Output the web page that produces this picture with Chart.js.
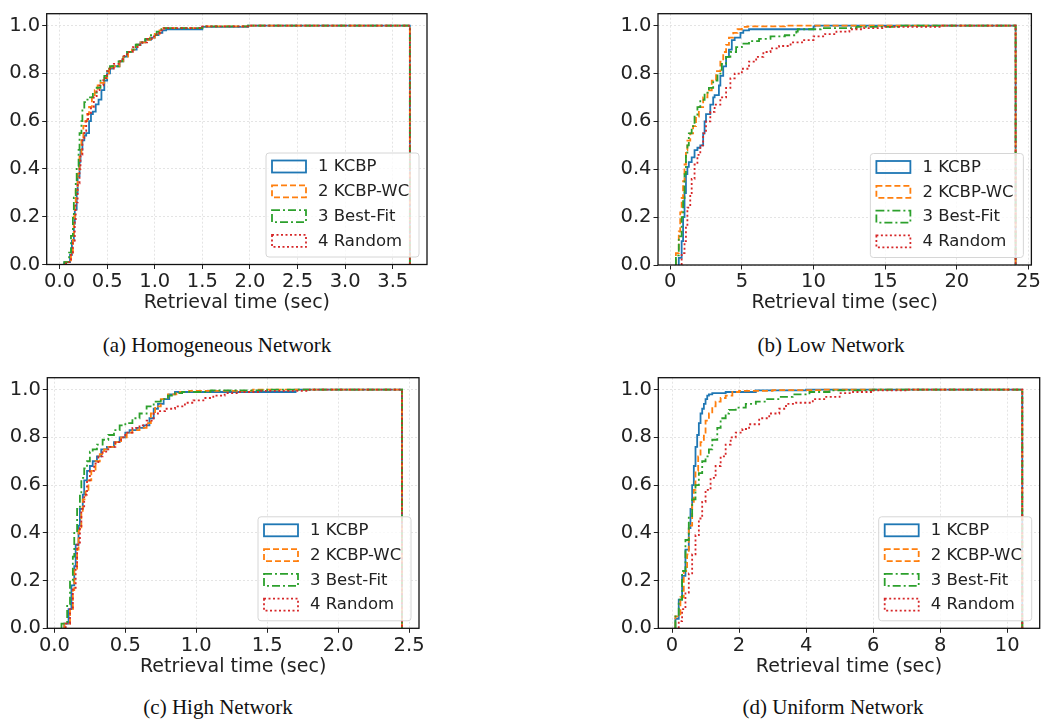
<!DOCTYPE html>
<html>
<head>
<meta charset="utf-8">
<script src="https://cdn.jsdelivr.net/npm/chart.js@4.4.1/dist/chart.umd.min.js"></script>
<style>
  body { margin: 0; width: 1042px; height: 721px; background: #fff; position: relative; overflow: hidden; }
  canvas { position: absolute; }
  .cap { position: absolute; font-family: 'Liberation Serif', 'Times New Roman', serif; font-size: 21px; line-height: 21px; color: #111; white-space: nowrap; transform: translateX(-50%); }
</style>
</head>
<body>
<canvas id="chartA" width="440" height="316" style="left:0px;top:0px"></canvas>
<canvas id="chartB" width="432" height="316" style="left:610px;top:0px"></canvas>
<canvas id="chartC" width="440" height="316" style="left:0px;top:364px"></canvas>
<canvas id="chartD" width="432" height="316" style="left:610px;top:364px"></canvas>
<div class="cap" style="left:217px;top:335px">(a) Homogeneous Network</div>
<div class="cap" style="left:831px;top:335px">(b) Low Network</div>
<div class="cap" style="left:218px;top:697px">(c) High Network</div>
<div class="cap" style="left:833px;top:697px">(d) Uniform Network</div>
<script>
const seriesNames = ['1 KCBP', '2 KCBP-WC', '3 Best-Fit', '4 Random'];
const seriesColors = ['#1f77b4', '#ff7f0e', '#2ca02c', '#d62728'];
const seriesDash = [[], [6, 3], [8, 3, 2, 3], [2, 2.5]];
const yTicks = [0, 0.2, 0.4, 0.6, 0.8, 1.0];
const xTitle = 'Retrieval time (sec)';

// (a) homogeneous network, [time, cumulative fraction]
const homXTicks = [0, 0.5, 1.0, 1.5, 2.0, 2.5, 3.0, 3.5];
const homKcbp = [[0.05,0],[0.11,0.01],[0.13,0.04],[0.15,0.1],[0.16,0.17],[0.18,0.23],[0.19,0.3],[0.21,0.37],[0.22,0.43],[0.24,0.48],[0.26,0.52],[0.28,0.54],[0.31,0.55],[0.33,0.6],[0.35,0.63],[0.38,0.64],[0.41,0.67],[0.44,0.69],[0.47,0.73],[0.5,0.77],[0.53,0.8],[0.56,0.82],[0.63,0.83],[0.67,0.85],[0.71,0.87],[0.76,0.89],[0.81,0.9],[0.85,0.92],[0.9,0.93],[0.96,0.94],[1.0,0.95],[1.04,0.96],[1.08,0.97],[1.12,0.98],[1.5,0.985],[1.98,0.995],[3.68,1.0],[3.68,0]];
const homKcbpWc = [[0.06,0],[0.12,0.01],[0.14,0.05],[0.15,0.12],[0.16,0.2],[0.17,0.25],[0.19,0.31],[0.21,0.38],[0.23,0.45],[0.25,0.52],[0.27,0.58],[0.29,0.6],[0.31,0.63],[0.34,0.66],[0.37,0.7],[0.4,0.73],[0.43,0.75],[0.47,0.76],[0.5,0.78],[0.52,0.8],[0.55,0.82],[0.63,0.83],[0.67,0.85],[0.72,0.87],[0.76,0.89],[0.81,0.9],[0.85,0.92],[0.9,0.93],[0.95,0.94],[1.0,0.95],[1.05,0.965],[1.09,0.98],[1.5,0.99],[1.98,0.997],[3.68,1.0],[3.68,0]];
const homBestFit = [[0.05,0],[0.1,0.01],[0.12,0.05],[0.14,0.12],[0.15,0.2],[0.17,0.28],[0.18,0.35],[0.2,0.41],[0.21,0.48],[0.23,0.55],[0.24,0.6],[0.26,0.65],[0.28,0.68],[0.31,0.69],[0.35,0.7],[0.39,0.72],[0.43,0.74],[0.47,0.77],[0.5,0.79],[0.53,0.82],[0.62,0.83],[0.66,0.85],[0.71,0.87],[0.76,0.89],[0.8,0.9],[0.85,0.92],[0.9,0.93],[0.96,0.945],[1.02,0.96],[1.07,0.975],[1.1,0.985],[1.5,0.99],[1.98,0.997],[3.68,1.0],[3.68,0]];
const homRandom = [[0.07,0],[0.12,0.01],[0.14,0.04],[0.16,0.1],[0.17,0.18],[0.19,0.26],[0.21,0.34],[0.22,0.4],[0.24,0.46],[0.26,0.53],[0.28,0.56],[0.3,0.6],[0.33,0.63],[0.36,0.66],[0.39,0.7],[0.42,0.73],[0.46,0.75],[0.5,0.78],[0.53,0.81],[0.57,0.82],[0.64,0.84],[0.68,0.86],[0.72,0.88],[0.77,0.89],[0.82,0.91],[0.87,0.92],[0.92,0.93],[0.97,0.945],[1.02,0.955],[1.06,0.97],[1.1,0.98],[1.5,0.99],[1.98,0.997],[3.68,1.0],[3.68,0]];

// (b) low network
const lowXTicks = [0, 5, 10, 15, 20, 25];
const lowKcbp = [[0.6,0],[0.8,0.03],[0.9,0.1],[1.0,0.2],[1.1,0.3],[1.2,0.38],[1.3,0.41],[1.5,0.43],[1.7,0.45],[1.9,0.48],[2.1,0.49],[2.3,0.5],[2.4,0.55],[2.5,0.6],[2.8,0.63],[3.0,0.67],[3.1,0.7],[3.4,0.71],[3.5,0.75],[3.7,0.79],[3.9,0.83],[4.1,0.87],[4.3,0.9],[4.5,0.94],[4.9,0.95],[5.1,0.97],[5.5,0.98],[10.0,0.985],[10.1,0.997],[24.1,1.0],[24.1,0]];
const lowKcbpWc = [[0.4,0],[0.6,0.05],[0.7,0.14],[0.8,0.22],[0.9,0.28],[1.0,0.35],[1.1,0.42],[1.2,0.48],[1.4,0.52],[1.6,0.55],[1.8,0.58],[2.0,0.62],[2.3,0.66],[2.6,0.7],[2.9,0.73],[3.2,0.77],[3.5,0.81],[3.7,0.85],[3.9,0.89],[4.1,0.92],[4.4,0.95],[4.7,0.97],[5.0,0.985],[5.4,0.995],[8.0,0.997],[24.1,1.0],[24.1,0]];
const lowBestFit = [[0.4,0],[0.6,0.04],[0.8,0.12],[0.9,0.2],[1.0,0.28],[1.1,0.38],[1.2,0.46],[1.3,0.5],[1.5,0.55],[1.7,0.58],[1.9,0.62],[2.1,0.66],[2.4,0.69],[2.7,0.72],[3.0,0.74],[3.3,0.77],[3.6,0.8],[3.9,0.84],[4.2,0.87],[4.6,0.89],[5.0,0.91],[5.5,0.925],[6.2,0.935],[7.0,0.945],[8.0,0.955],[8.8,0.96],[8.9,0.975],[10.5,0.985],[13.0,0.99],[16.0,0.995],[24.1,1.0],[24.1,0]];
const lowRandom = [[0.8,0],[1.0,0.05],[1.1,0.1],[1.2,0.16],[1.4,0.24],[1.5,0.3],[1.7,0.36],[1.9,0.42],[2.1,0.46],[2.3,0.5],[2.5,0.55],[2.8,0.6],[3.1,0.64],[3.5,0.67],[3.9,0.7],[4.2,0.74],[4.5,0.78],[5.0,0.8],[5.5,0.82],[6.0,0.85],[6.5,0.87],[7.0,0.89],[7.6,0.905],[8.4,0.915],[9.2,0.93],[10.0,0.94],[10.8,0.955],[11.6,0.965],[12.5,0.975],[13.5,0.985],[15.0,0.99],[19.0,0.995],[24.1,1.0],[24.1,0]];

// (c) high network
const highXTicks = [0, 0.5, 1.0, 1.5, 2.0, 2.5];
const highKcbp = [[0.07,0],[0.1,0.02],[0.12,0.08],[0.14,0.18],[0.15,0.26],[0.17,0.35],[0.18,0.43],[0.2,0.5],[0.21,0.56],[0.23,0.62],[0.25,0.66],[0.27,0.68],[0.3,0.7],[0.33,0.72],[0.37,0.75],[0.42,0.76],[0.46,0.78],[0.5,0.8],[0.53,0.82],[0.58,0.83],[0.63,0.84],[0.67,0.85],[0.7,0.88],[0.73,0.92],[0.77,0.94],[0.81,0.96],[0.85,0.98],[1.7,0.99],[2.45,1.0],[2.45,0]];
const highKcbpWc = [[0.07,0],[0.11,0.02],[0.13,0.08],[0.14,0.16],[0.16,0.25],[0.17,0.33],[0.19,0.41],[0.2,0.48],[0.22,0.54],[0.24,0.58],[0.26,0.62],[0.29,0.66],[0.32,0.7],[0.35,0.73],[0.38,0.75],[0.43,0.76],[0.47,0.78],[0.51,0.8],[0.55,0.82],[0.6,0.83],[0.65,0.84],[0.68,0.86],[0.71,0.9],[0.75,0.93],[0.8,0.96],[0.86,0.98],[0.95,0.99],[1.4,0.995],[2.45,1.0],[2.45,0]];
const highBestFit = [[0.05,0],[0.09,0.02],[0.11,0.1],[0.13,0.2],[0.14,0.3],[0.16,0.4],[0.18,0.5],[0.19,0.57],[0.21,0.63],[0.23,0.67],[0.25,0.7],[0.27,0.74],[0.3,0.75],[0.34,0.77],[0.38,0.79],[0.42,0.81],[0.46,0.83],[0.5,0.85],[0.55,0.86],[0.6,0.88],[0.65,0.9],[0.7,0.93],[0.75,0.95],[0.8,0.96],[0.85,0.975],[0.9,0.985],[1.1,0.99],[1.5,0.997],[2.45,1.0],[2.45,0]];
const highRandom = [[0.08,0],[0.11,0.02],[0.13,0.08],[0.15,0.17],[0.16,0.26],[0.18,0.35],[0.19,0.42],[0.21,0.5],[0.23,0.56],[0.25,0.62],[0.28,0.66],[0.31,0.69],[0.34,0.72],[0.38,0.74],[0.43,0.76],[0.47,0.78],[0.5,0.8],[0.55,0.82],[0.6,0.84],[0.65,0.85],[0.7,0.87],[0.73,0.9],[0.78,0.91],[0.85,0.92],[0.92,0.93],[0.98,0.945],[1.05,0.955],[1.12,0.965],[1.2,0.975],[1.3,0.985],[1.45,0.99],[1.8,0.995],[2.45,1.0],[2.45,0]];

// (d) uniform network
const uniXTicks = [0, 2, 4, 6, 8, 10];
const uniKcbp = [[0.1,0],[0.2,0.04],[0.3,0.12],[0.4,0.22],[0.5,0.33],[0.55,0.42],[0.6,0.5],[0.65,0.6],[0.7,0.68],[0.75,0.76],[0.8,0.81],[0.85,0.86],[0.9,0.9],[0.95,0.92],[1.0,0.94],[1.05,0.96],[1.1,0.975],[1.2,0.98],[1.6,0.985],[2.5,0.99],[4.0,0.997],[10.45,1.0],[10.45,0]];
const uniKcbpWc = [[0.1,0],[0.25,0.05],[0.35,0.13],[0.45,0.24],[0.5,0.31],[0.6,0.43],[0.65,0.52],[0.7,0.58],[0.78,0.66],[0.85,0.72],[0.95,0.78],[1.0,0.82],[1.1,0.87],[1.2,0.9],[1.3,0.93],[1.45,0.95],[1.6,0.965],[1.8,0.975],[2.0,0.99],[3.0,0.995],[4.5,0.998],[10.45,1.0],[10.45,0]];
const uniBestFit = [[0.1,0],[0.2,0.05],[0.3,0.12],[0.4,0.24],[0.5,0.37],[0.6,0.47],[0.7,0.54],[0.8,0.6],[0.9,0.65],[1.0,0.7],[1.1,0.72],[1.2,0.75],[1.35,0.79],[1.45,0.84],[1.6,0.88],[1.7,0.9],[1.9,0.915],[2.2,0.925],[2.5,0.94],[2.8,0.95],[3.2,0.96],[3.6,0.97],[4.1,0.98],[4.7,0.99],[6.0,0.997],[10.45,1.0],[10.45,0]];
const uniRandom = [[0.2,0],[0.3,0.03],[0.4,0.08],[0.5,0.15],[0.6,0.23],[0.7,0.31],[0.8,0.39],[0.9,0.46],[1.0,0.53],[1.15,0.58],[1.3,0.63],[1.45,0.68],[1.6,0.72],[1.75,0.77],[1.9,0.8],[2.1,0.82],[2.3,0.835],[2.6,0.855],[2.9,0.88],[3.2,0.9],[3.4,0.92],[3.7,0.94],[4.2,0.945],[4.6,0.96],[5.0,0.97],[5.4,0.985],[6.0,0.99],[7.0,0.997],[10.45,1.0],[10.45,0]];

// legend box in the lower right corner, like matplotlib's
const legendBox = {
  id: 'legendBox',
  afterDraw(chart) {
    const { ctx, chartArea } = chart;
    const w = 153, h = 104;
    const x = chartArea.right - 8 - w;
    const y = chartArea.bottom - 7.5 - h;
    ctx.save();
    ctx.beginPath();
    ctx.roundRect(x, y, w, h, 3);
    ctx.fillStyle = 'rgba(255,255,255,0.8)';
    ctx.fill();
    ctx.strokeStyle = '#d6d6d6';
    ctx.lineWidth = 1;
    ctx.stroke();
    ctx.font = '16.5px "DejaVu Sans"';
    ctx.textBaseline = 'middle';
    chart.data.datasets.forEach((ds, i) => {
      const cy = y + 13.5 + i * 24.8;
      ctx.strokeStyle = ds.borderColor;
      ctx.lineWidth = 1.8;
      ctx.setLineDash(ds.borderDash);
      ctx.strokeRect(x + 6, cy - 6, 34, 12);
      ctx.setLineDash([]);
      ctx.fillStyle = '#222';
      ctx.fillText(ds.label, x + 52, cy + 0.5);
    });
    ctx.restore();
  }
};

// black box round the axes
const frame = {
  id: 'frame',
  afterDatasetsDraw(chart) {
    const { ctx, chartArea } = chart;
    ctx.save();
    ctx.strokeStyle = '#111';
    ctx.lineWidth = 1.3;
    ctx.strokeRect(chartArea.left, chartArea.top, chartArea.right - chartArea.left, chartArea.bottom - chartArea.top);
    ctx.restore();
  }
};

function makeChart(id, series, xMin, xMax, xTicks, decimals, pad, yW, xH) {
  const ctx = document.getElementById(id).getContext('2d');
  return new Chart(ctx, {
    type: 'line',
    data: {
      datasets: series.map((s, i) => ({
        label: seriesNames[i],
        data: s.map(p => ({ x: p[0], y: p[1] })),
        borderColor: seriesColors[i],
        borderDash: seriesDash[i],
        borderWidth: 1.8,
        pointRadius: 0,
        fill: false,
        stepped: 'after',
        order: 3 - i,
      })),
    },
    options: {
      responsive: false,
      animation: false,
      layout: { padding: pad },
      plugins: { legend: { display: false }, tooltip: { enabled: false } },
      scales: {
        x: {
          type: 'linear',
          min: xMin,
          max: xMax,
          afterBuildTicks: (axis) => { axis.ticks = xTicks.map(v => ({ value: v })); },
          afterFit: (axis) => { axis.height = xH; },
          ticks: {
            color: '#222',
            font: { family: 'DejaVu Sans', size: 19.5 },
            padding: 1,
            maxRotation: 0,
            callback: (v) => v.toFixed(decimals),
          },
          grid: { color: '#dddddd', lineWidth: 0.8, tickLength: 4.5, tickColor: '#222', tickWidth: 1, tickBorderDash: [] },
          border: { display: false, dash: [2, 2] },
          title: { display: true, text: xTitle, color: '#222', font: { family: 'DejaVu Sans', size: 19 }, padding: { top: 0, bottom: 0 } },
        },
        y: {
          min: 0,
          max: 1.05,
          afterBuildTicks: (axis) => { axis.ticks = yTicks.map(v => ({ value: v })); },
          afterFit: (axis) => { axis.width = yW; },
          ticks: {
            color: '#222',
            font: { family: 'DejaVu Sans', size: 19.5 },
            padding: 2,
            callback: (v) => v.toFixed(1),
          },
          grid: { color: '#dddddd', lineWidth: 0.8, tickLength: 4.5, tickColor: '#222', tickWidth: 1, tickBorderDash: [] },
          border: { display: false, dash: [2, 2] },
        },
      },
    },
    plugins: [frame, legendBox],
  });
}

makeChart('chartA', [homKcbp, homKcbpWc, homBestFit, homRandom], -0.135, 3.86, homXTicks, 1,
  { top: 7, right: 13, left: 0, bottom: 2 }, 46.7, 49.5);
makeChart('chartB', [lowKcbp, lowKcbpWc, lowBestFit, lowRandom], -0.85, 25.2, lowXTicks, 0,
  { top: 7, right: 10, left: 0, bottom: 2 }, 48, 49);
makeChart('chartC', [highKcbp, highKcbpWc, highBestFit, highRandom], -0.05, 2.57, highXTicks, 1,
  { top: 7.3, right: 21, left: 0, bottom: 2 }, 47.3, 49.7);
makeChart('chartD', [uniKcbp, uniKcbpWc, uniBestFit, uniRandom], -0.41, 10.97, uniXTicks, 0,
  { top: 7, right: 2.3, left: 0, bottom: 2 }, 48.3, 49.7);
</script>
</body>
</html>
